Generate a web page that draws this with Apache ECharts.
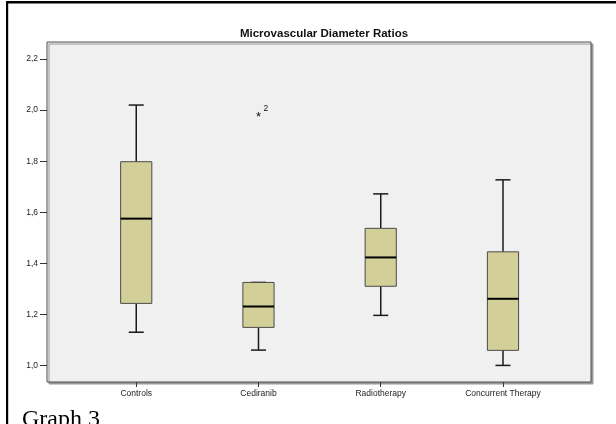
<!DOCTYPE html>
<html>
<head>
<meta charset="utf-8">
<script src="https://cdn.jsdelivr.net/npm/echarts@6/dist/echarts.min.js"></script>
<style>
html,body{margin:0;padding:0;background:#fff;}
#chart{width:616px;height:424px;}
</style>
</head>
<body>
<div id="chart"></div>
<script>
// ---- data ----
const categories = ['Controls', 'Cediranib', 'Radiotherapy', 'Concurrent Therapy'];
const whiskerLow  = [1.13, 1.06, 1.196, 1.00];
const q1          = [1.243, 1.149, 1.31, 1.059];
const medians     = [1.575, 1.231, 1.423, 1.261];
const q3          = [1.798, 1.325, 1.537, 1.445];
const whiskerHigh = [2.02, 1.325, 1.672, 1.727];
const outlierCategory = [1];
const outlierValues   = [1.985];
const outlierLabels   = ['2'];
const yTicks = [1.0, 1.2, 1.4, 1.6, 1.8, 2.0, 2.2];
const xTicks = [1, 2, 3, 4];

const boxData = categories.map((c, i) => [i + 1, whiskerLow[i], q1[i], medians[i], q3[i], whiskerHigh[i]]);
const outData = outlierCategory.map((c, i) => [c + 1, outlierValues[i], outlierLabels[i]]);

const chart = echarts.init(document.getElementById('chart'));

const option = {
  animation: false,
  backgroundColor: '#ffffff',
  title: {
    text: 'Microvascular Diameter Ratios',
    left: 319,
    textAlign: 'center',
    top: 23,
    textStyle: { fontFamily: 'Liberation Sans, Arial', fontWeight: 'bold', fontSize: 11.5, color: '#111' }
  },
  grid: {
    left: 47, right: 25, top: 42, bottom: 42,
    show: true,
    backgroundColor: '#f0f0f0',
    borderColor: '#505050',
    borderWidth: 1,
    shadowColor: '#999',
    shadowBlur: 0,
    shadowOffsetX: 2,
    shadowOffsetY: 2
  },
  xAxis: {
    type: 'value',
    min: 0.27, max: 4.72,
    splitLine: { show: false },
    axisLine: { show: false },
    axisTick: { show: true, length: 5, customValues: xTicks, lineStyle: { color: '#333' } },
    axisLabel: {
      show: true, customValues: xTicks, margin: 7,
      fontFamily: 'Liberation Sans, Arial', fontSize: 8.5, color: '#222',
      formatter: v => categories[Math.round(v) - 1] || ''
    }
  },
  yAxis: {
    type: 'value',
    min: 0.935, max: 2.267,
    splitLine: { show: false },
    axisLine: { show: false },
    axisTick: { show: true, length: 7, customValues: yTicks, lineStyle: { color: '#333' } },
    axisLabel: {
      show: true, customValues: yTicks, margin: 9,
      fontFamily: 'Liberation Sans, Arial', fontSize: 8.5, color: '#222',
      formatter: v => v.toFixed(1).replace('.', ',')
    }
  },
  series: [
    {
      type: 'custom',
      data: boxData,
      encode: { x: 0, y: [1, 2, 3, 4, 5] },
      renderItem: function (params, api) {
        const x = api.value(0);
        const pLow = api.coord([x, api.value(1)]);
        const pQ1 = api.coord([x, api.value(2)]);
        const pMed = api.coord([x, api.value(3)]);
        const pQ3 = api.coord([x, api.value(4)]);
        const pHigh = api.coord([x, api.value(5)]);
        const unit = api.size([1, 0])[0];
        const bw = unit * 0.255;
        const cw = unit * 0.123;
        const cx = pMed[0];
        const line = { stroke: '#1a1a1a', lineWidth: 1.5 };
        return {
          type: 'group',
          children: [
            { type: 'line', shape: { x1: cx, y1: pHigh[1], x2: cx, y2: pQ3[1] }, style: line },
            { type: 'line', shape: { x1: cx, y1: pQ1[1], x2: cx, y2: pLow[1] }, style: line },
            { type: 'line', shape: { x1: cx - cw / 2, y1: pHigh[1], x2: cx + cw / 2, y2: pHigh[1] }, style: line },
            { type: 'line', shape: { x1: cx - cw / 2, y1: pLow[1], x2: cx + cw / 2, y2: pLow[1] }, style: line },
            { type: 'rect', shape: { x: cx - bw / 2, y: pQ3[1], width: bw, height: pQ1[1] - pQ3[1] },
              style: { fill: '#d3cf98', stroke: '#4a4a4a', lineWidth: 1 } },
            { type: 'line', shape: { x1: cx - bw / 2, y1: pMed[1], x2: cx + bw / 2, y2: pMed[1] },
              style: { stroke: '#000', lineWidth: 2 } }
          ]
        };
      }
    },
    {
      type: 'custom',
      data: outData,
      encode: { x: 0, y: 1 },
      renderItem: function (params, api) {
        const p = api.coord([api.value(0), api.value(1)]);
        const lbl = outData[params.dataIndex][2];
        return {
          type: 'group',
          children: [
            { type: 'text', x: p[0], y: p[1] + 3,
              style: { text: '*', fontSize: 13, fontFamily: 'Liberation Sans, Arial', fill: '#111', align: 'center', verticalAlign: 'middle' } },
            { type: 'text', x: p[0] + 5, y: p[1] - 5,
              style: { text: lbl, fontSize: 8.5, fontFamily: 'Liberation Sans, Arial', fill: '#111', align: 'left', verticalAlign: 'middle' } }
          ]
        };
      }
    }
  ],
  graphic: [
    { type: 'rect', shape: { x: 6, y: 1, width: 610, height: 2.5 }, style: { fill: '#000' } },
    { type: 'rect', shape: { x: 6, y: 1, width: 2.2, height: 423 }, style: { fill: '#000' } },
    { type: 'text', x: 22, y: 408,
      style: { text: 'Graph 3', fontFamily: 'Liberation Serif, Times New Roman', fontSize: 24, fill: '#000', verticalAlign: 'top' } }
  ]
};
chart.setOption(option);
</script>
</body>
</html>
